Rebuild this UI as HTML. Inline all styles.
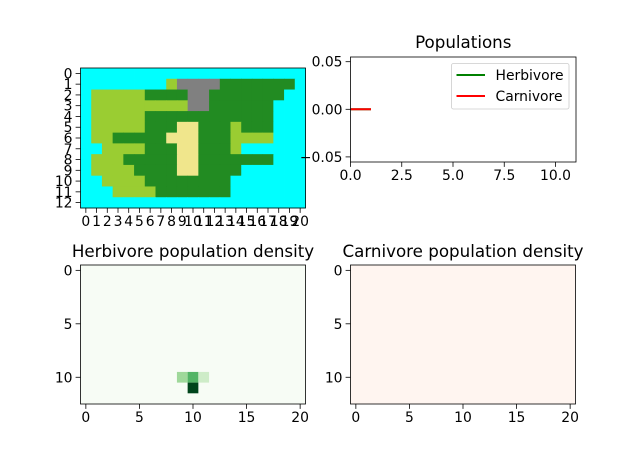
<!DOCTYPE html>
<html><head><meta charset="utf-8"><style>
html,body{margin:0;padding:0;background:#fff}
svg{display:block;font-family:"DejaVu Sans","Liberation Sans",sans-serif}
</style></head><body>
<svg id="fig" width="640" height="468" viewBox="0 0 640 468" xmlns="http://www.w3.org/2000/svg">
<rect width="640" height="468" fill="#fff"/>
<g id="map"></g>
<g id="pop"></g>
<g id="herb"></g>
<g id="carn"></g>
</svg>
<script>
// terrain codes: W water, L light grass, D forest, G rock, S sand
const terrainRows = [
"WWWWWWWWWWWWWWWWWWWWW",
"WWWWWWWWLGGGGDDDDDDDW",
"WLLLLLDDDDGGDDDDDDDWW",
"WLLLLLLLLLGGDDDDDDWWW",
"WLLLLLDDDDDDDDDDDDWWW",
"WLLLLLDDDSSDDDLDDDWWW",
"WLLDDDDDSSSDDDLLLLWWW",
"WWLLLLDDDSSDDDLWWWWWW",
"WLLLDDDDDSSDDDDDDDWWW",
"WLLLLDDDDSSDDDDWWWWWW",
"WWLLLLDDDDDDDDWWWWWWW",
"WWWLLLLDDDDDDDWWWWWWW",
"WWWWWWWWWWWWWWWWWWWWW"];
const terrainColors = {W:"#00ffff",L:"#9acd32",D:"#228b22",G:"#808080",S:"#f0e68c"};
const popTime = [0, 1];
const herbivorePop = [0, 0];
const carnivorePop = [0, 0];
const popXTicks = [0, 2.5, 5, 7.5, 10];
const popXTickLabels = ["0.0","2.5","5.0","7.5","10.0"];
const popYTicks = [0.05, 0, -0.05];
const popYTickLabels = ["0.05","0.00","\u22120.05"];
const herbDensityCells = [[10,9,0.38],[10,10,0.58],[10,11,0.22],[11,10,1.0]]; // row, col, value
const carnDensityCells = [];
const heatTicksX = [0,5,10,15,20];
const heatTicksY = [0,5,10];

const NS="http://www.w3.org/2000/svg";
function mk(tag,attrs,parent,text){const e=document.createElementNS(NS,tag);for(const k in attrs)e.setAttribute(k,attrs[k]);if(text!==undefined)e.textContent=text;parent.appendChild(e);return e;}
function lerp(a,b,t){return a+(b-a)*t}
const greens=["#f7fcf5","#e5f5e0","#c7e9c0","#a1d99b","#74c476","#41ab5d","#238b45","#006d2c","#00441b"];
const reds=["#fff5f0","#fee0d2","#fcbba1","#fc9272","#fb6a4a","#ef3b2c","#cb181d","#a50f15","#67000d"];
function cmap(stops,v){v=Math.max(0,Math.min(1,v));const p=v*(stops.length-1);const i=Math.min(Math.floor(p),stops.length-2);const t=p-i;
 const a=stops[i],b=stops[i+1];const c=[1,3,5].map(j=>Math.round(lerp(parseInt(a.substr(j,2),16),parseInt(b.substr(j,2),16),t)));return "rgb("+c.join(",")+")";}

function heatAxes(g,x0,y0,w,h,ncol,nrow,xt,yt,xlab,ylab){
 const cw=w/ncol,rh=h/nrow;
 const sx=c=>x0+(c+0.5)*cw, sy=r=>y0+(r+0.5)*rh;
 xt.forEach((t,i)=>{const x=sx(t);
  const tk=mk('line',{x1:x,x2:x,y1:y0+h,y2:y0+h+4.9,stroke:'#000','stroke-width':0.8},g);
  
  const tl=mk('text',{x:x,y:y0+h+18,'font-size':13.9,'text-anchor':'middle'},g,xlab[i]);
  });
 yt.forEach((t,i)=>{const y=sy(t);
  const tk=mk('line',{x1:x0-4.9,x2:x0,y1:y,y2:y,stroke:'#000','stroke-width':0.8},g);
  
  const tl=mk('text',{x:x0-8,y:y+5,'font-size':13.9,'text-anchor':'end'},g,ylab[i]);
  });
 return {sx,sy,cw,rh};
}

// terrain map
(function(){
 const g=document.getElementById('map');const x0=80.5,y0=68,w=225,h=140,nc=21,nr=13;
 const cw=w/nc,rh=h/nr;
 terrainRows.forEach((row,r)=>{[...row].forEach((ch,c)=>{
  const rc=mk('rect',{x:x0+c*cw,y:y0+r*rh,width:cw+0.4,height:rh+0.4,fill:terrainColors[ch]},g);
  });});
 mk('rect',{x:x0,y:y0,width:w,height:h,fill:'none',stroke:'#000','stroke-width':0.8},g);
 const xs=[...Array(nc).keys()],ys=[...Array(nr).keys()];
 heatAxes(g,x0,y0,w,h,nc,nr,xs,ys,xs.map(String),ys.map(String));
})();

// density heatmaps
function density(id,cells,stops,title,x0){
 const g=document.getElementById(id);const y0=265,w=225,h=139,nc=21,nr=13;const cw=w/nc,rh=h/nr;
 const bg=mk('rect',{x:x0,y:y0,width:w,height:h,fill:stops[0]},g);
 
 cells.forEach(([r,c,v])=>{const rc=mk('rect',{x:x0+c*cw,y:y0+r*rh,width:cw,height:rh,fill:cmap(stops,v)},g);
  });
 mk('rect',{x:x0,y:y0,width:w,height:h,fill:'none',stroke:'#000','stroke-width':0.8},g);
 heatAxes(g,x0,y0,w,h,nc,nr,heatTicksX,heatTicksY,heatTicksX.map(String),heatTicksY.map(String));
 const t=mk('text',{x:x0+w/2,y:257,'font-size':16.7,'text-anchor':'middle'},g,title);
 
}
density('herb',herbDensityCells,greens,'Herbivore population density',80.5);
density('carn',carnDensityCells,reds,'Carnivore population density',350.5);

// populations chart
(function(){
 const g=document.getElementById('pop');const x0=350.5,y0=57,w=225.5,h=105;
 const sx=v=>x0+v/11*w, sy=v=>109.3-v/0.05*47.6;
 popXTicks.forEach((t,i)=>{const x=sx(t);
  mk('line',{x1:x,x2:x,y1:y0+h,y2:y0+h+4.9,stroke:'#000','stroke-width':0.8},g);
  const tl=mk('text',{x:x,y:y0+h+18,'font-size':13.9,'text-anchor':'middle'},g,popXTickLabels[i]);
  });
 popYTicks.forEach((t,i)=>{const y=sy(t);
  mk('line',{x1:x0-4.9,x2:x0,y1:y,y2:y,stroke:'#000','stroke-width':0.8},g);
  const tl=mk('text',{x:x0-8,y:y+5,'font-size':13.9,'text-anchor':'end'},g,popYTickLabels[i]);
  });
 const path=(ys)=>popTime.map((t,i)=>(i?'L':'M')+sx(t)+','+sy(ys[i])).join(' ');
 const hl=mk('path',{d:path(herbivorePop),stroke:'#008000','stroke-width':2,fill:'none'},g);
 
 const cl=mk('path',{d:path(carnivorePop),stroke:'#ff0000','stroke-width':2,fill:'none'},g);
 
 mk('rect',{x:x0,y:y0,width:w,height:h,fill:'none',stroke:'#000','stroke-width':0.8},g);
 const t=mk('text',{x:x0+w/2,y:48,'font-size':16.7,'text-anchor':'middle'},g,'Populations');
 
 const lg=mk('g',{},g);
 
 mk('rect',{x:451.5,y:63.5,width:117.5,height:45.5,rx:2,fill:'#fff','fill-opacity':0.8,stroke:'#ccc','stroke-width':0.8},lg);
 [['Herbivore','#008000',75],['Carnivore','#ff0000',96]].forEach(([n,c,y])=>{
  const e=mk('g',{},lg);
  
  mk('line',{x1:456.5,x2:485,y1:y,y2:y,stroke:c,'stroke-width':2},e);
  mk('text',{x:495.5,y:y+5,'font-size':13.9},e,n);});
})();
</script>
</body></html>
